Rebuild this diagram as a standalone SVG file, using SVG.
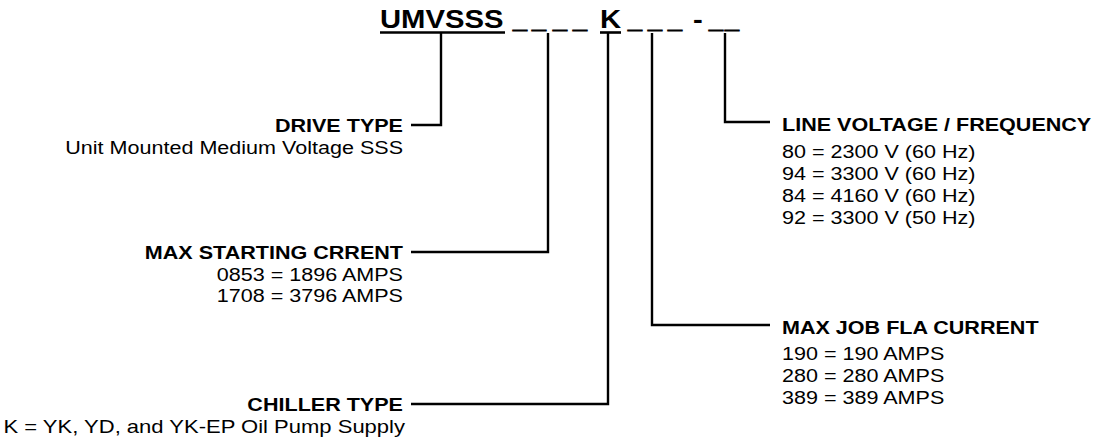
<svg xmlns="http://www.w3.org/2000/svg" width="1107" height="444" viewBox="0 0 1107 444">
  <style>
    text { font-family: "Liberation Sans", Arial, sans-serif; fill: #000; }
    .hdr { font-size: 25px; font-weight: bold; }
    .us { stroke: #000; stroke-width: 1.2; }
    .b { font-size: 18.5px; font-weight: bold; }
    .r { font-size: 18.5px; }
    .end { text-anchor: end; }
    .conn { fill: none; stroke: #000; stroke-width: 2.4; }
    .ul { stroke: #000; stroke-width: 2.6; }
  </style>
  <rect width="1107" height="444" fill="#fff"/>

  <g id="model-code">
    <text class="hdr" transform="translate(380,28) scale(1.17,1)">UMVSSS</text>
    <line class="ul" x1="380" y1="32.5" x2="505" y2="32.5"/>
    <text class="hdr us" x="513 532 553 573" y="28">____</text>
    <text class="hdr" transform="translate(600,28) scale(1.17,1)">K</text>
    <line class="ul" x1="600" y1="32.5" x2="621" y2="32.5"/>
    <text class="hdr us" x="628 648 668" y="28">___</text>
    <text class="hdr" transform="translate(693,28) scale(1.17,1)">-</text>
    <text class="hdr us" x="709 725" y="28">__</text>
  </g>

  <g id="connectors">
    <polyline class="conn" points="441,33 441,125 411,125"/>
    <polyline class="conn" points="548,33 548,252 411,252"/>
    <polyline class="conn" points="608,33 608,404 411,404"/>
    <polyline class="conn" points="652,33 652,325 770,325"/>
    <polyline class="conn" points="725,33 725,122 770,122"/>
  </g>

  <g id="drive-type">
    <text class="b end" transform="translate(403,131.5) scale(1.165,1)">DRIVE TYPE</text>
    <text class="r end" transform="translate(403,154) scale(1.165,1)">Unit Mounted Medium Voltage SSS</text>
  </g>

  <g id="max-starting-current">
    <text class="b end" transform="translate(403,258.5) scale(1.165,1)">MAX STARTING CRRENT</text>
    <text class="r end" transform="translate(403,280.5) scale(1.165,1)">0853 = 1896 AMPS</text>
    <text class="r end" transform="translate(403,302) scale(1.165,1)">1708 = 3796 AMPS</text>
  </g>

  <g id="chiller-type">
    <text class="b end" transform="translate(403,410.5) scale(1.165,1)">CHILLER TYPE</text>
    <text class="r end" transform="translate(405,432.5) scale(1.19,1)">K = YK, YD, and YK-EP Oil Pump Supply</text>
  </g>

  <g id="line-voltage">
    <text class="b" transform="translate(782,131) scale(1.165,1)">LINE VOLTAGE / FREQUENCY</text>
    <text class="r" transform="translate(782,158) scale(1.165,1)">80 = 2300 V (60 Hz)</text>
    <text class="r" transform="translate(782,180) scale(1.165,1)">94 = 3300 V (60 Hz)</text>
    <text class="r" transform="translate(782,202) scale(1.165,1)">84 = 4160 V (60 Hz)</text>
    <text class="r" transform="translate(782,224) scale(1.165,1)">92 = 3300 V (50 Hz)</text>
  </g>

  <g id="max-job-fla">
    <text class="b" transform="translate(782,334) scale(1.165,1)">MAX JOB FLA CURRENT</text>
    <text class="r" transform="translate(782,360) scale(1.165,1)">190 = 190 AMPS</text>
    <text class="r" transform="translate(782,382) scale(1.165,1)">280 = 280 AMPS</text>
    <text class="r" transform="translate(782,404) scale(1.165,1)">389 = 389 AMPS</text>
  </g>
</svg>
